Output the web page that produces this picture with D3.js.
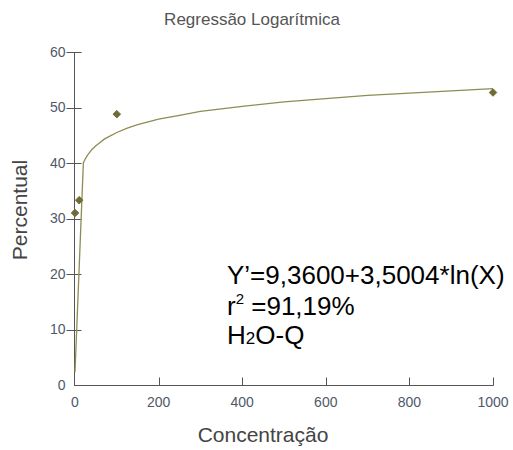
<!DOCTYPE html>
<html>
<head>
<meta charset="utf-8">
<script src="https://cdn.jsdelivr.net/npm/d3@7"></script>
<style>
  body { margin: 0; background: #fff; }
  text { font-family: "Liberation Sans", Arial, sans-serif; }
</style>
</head>
<body>
<svg id="chart" width="513" height="450"></svg>
<script>
'use strict';

// observed points
var pointsX = [0, 10, 100, 1000];
var pointsY = [31, 33.3, 48.8, 52.7];

// fitted curve
var curveX = [0, 20, 25, 30, 40, 50, 60, 70, 80, 100, 125, 150, 200, 250, 300, 400, 500, 600, 700, 800, 900, 1000];
var curveY = [2.3, 40.0, 40.8, 41.4, 42.4, 43.1, 43.7, 44.3, 44.7, 45.5, 46.3, 46.9, 47.9, 48.6, 49.3, 50.2, 51.0, 51.6, 52.2, 52.6, 53.0, 53.4];

var xTicks = [0, 200, 400, 600, 800, 1000];
var yTicks = [0, 10, 20, 30, 40, 50, 60];

var title = 'Regressão Logarítmica';
var xLabel = 'Concentração';
var yLabel = 'Percentual';

var svg = d3.select('#chart');

var x = d3.scaleLinear().domain([0, 1000]).range([75, 493]);
var y = d3.scaleLinear().domain([0, 60]).range([385, 52]);

var axisColor = '#555';

// title
svg.append('text')
  .attr('x', 252).attr('y', 25)
  .attr('text-anchor', 'middle')
  .attr('font-size', 17)
  .attr('fill', '#555')
  .text(title);

// y axis: ticks cross the line
var gy = svg.append('g').attr('transform', 'translate(74.5,0)');
gy.append('line')
  .attr('y1', y(60)).attr('y2', y(0) + 0.5)
  .attr('stroke', axisColor);
gy.selectAll('.tick')
  .data(yTicks.filter(function (d) { return d > 0; }))
  .enter().append('line')
  .attr('x1', -8).attr('x2', 7)
  .attr('y1', function (d) { return Math.round(y(d)) + 0.5; })
  .attr('y2', function (d) { return Math.round(y(d)) + 0.5; })
  .attr('stroke', axisColor);
gy.selectAll('.lbl')
  .data(yTicks)
  .enter().append('text')
  .attr('x', -9)
  .attr('y', function (d) { return y(d); })
  .attr('dy', '0.35em')
  .attr('text-anchor', 'end')
  .attr('font-size', 14)
  .attr('fill', '#505868')
  .text(function (d) { return d; });

// x axis: ticks point up
var gx = svg.append('g').attr('transform', 'translate(0,385.5)');
gx.append('line')
  .attr('x1', 74).attr('x2', x(1000) + 0.5)
  .attr('stroke', axisColor);
gx.selectAll('.tick')
  .data(xTicks.filter(function (d) { return d > 0; }))
  .enter().append('line')
  .attr('x1', function (d) { return Math.round(x(d)) + 0.5; })
  .attr('x2', function (d) { return Math.round(x(d)) + 0.5; })
  .attr('y1', -8).attr('y2', 0)
  .attr('stroke', axisColor);
gx.selectAll('.lbl')
  .data(xTicks)
  .enter().append('text')
  .attr('x', function (d) { return x(d); })
  .attr('y', 21)
  .attr('text-anchor', 'middle')
  .attr('font-size', 14)
  .attr('fill', '#505868')
  .text(function (d) { return d; });

// axis titles
svg.append('text')
  .attr('x', 263).attr('y', 442)
  .attr('text-anchor', 'middle')
  .attr('font-size', 21)
  .attr('fill', '#444')
  .text(xLabel);

svg.append('text')
  .attr('transform', 'translate(27,210) rotate(-90)')
  .attr('text-anchor', 'middle')
  .attr('font-size', 21)
  .attr('fill', '#444')
  .text(yLabel);

// fitted curve
var line = d3.line()
  .x(function (d) { return x(d[0]); })
  .y(function (d) { return y(d[1]); });

svg.append('path')
  .datum(d3.zip(curveX, curveY))
  .attr('d', line)
  .attr('fill', 'none')
  .attr('stroke', '#8e8c55')
  .attr('stroke-width', 1.3);

// points
var diamond = d3.symbol().type(d3.symbolDiamond2).size(36);
svg.selectAll('.pt')
  .data(d3.zip(pointsX, pointsY))
  .enter().append('path')
  .attr('d', diamond)
  .attr('transform', function (d) { return 'translate(' + x(d[0]) + ',' + y(d[1]) + ')'; })
  .attr('fill', '#6e6c38')
  .attr('stroke', '#6e6c38')
  .attr('stroke-width', 1)
  .attr('stroke-linejoin', 'round');

// equation block
var eq = svg.append('g').attr('fill', '#000').attr('font-size', 26);
eq.append('text').attr('x', 227).attr('y', 284).text('Y\u2019=9,3600+3,5004*ln(X)');
var r2 = eq.append('text').attr('x', 227).attr('y', 315);
r2.append('tspan').text('r');
r2.append('tspan').attr('font-size', 15).attr('dy', -11).text('2');
r2.append('tspan').attr('dy', 11).text(' =91,19%');
var h2o = eq.append('text').attr('x', 227).attr('y', 344);
h2o.append('tspan').text('H');
h2o.append('tspan').attr('font-size', 17).text('2');
h2o.append('tspan').text('O-Q');
</script>
</body>
</html>
